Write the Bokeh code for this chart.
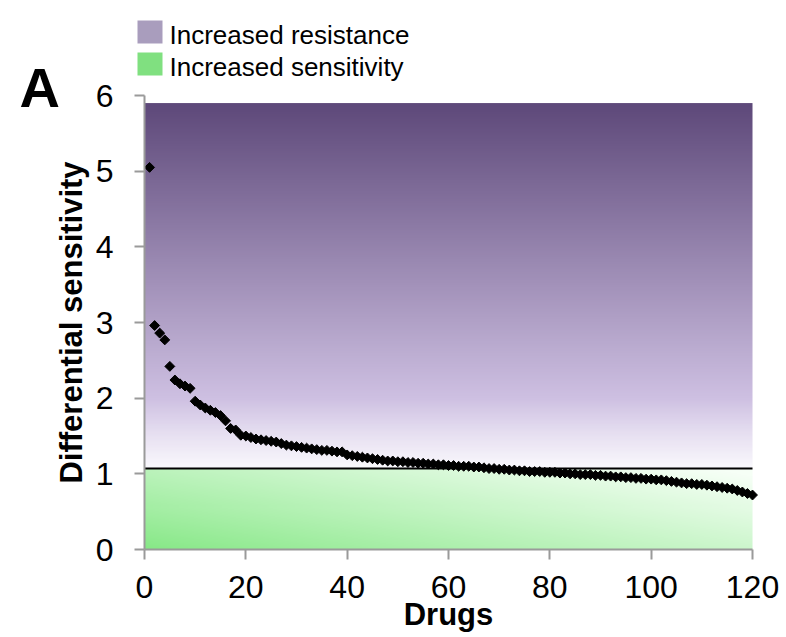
import numpy as np
from bokeh.plotting import figure
from bokeh.models import Label, BoxAnnotation, FixedTicker, LinearAxis
from bokeh.embed import file_html
from bokeh.resources import INLINE

# ---------------- data ----------------
drug_index = list(range(1, 121))
differential_sensitivity = [
    5.05, 2.96, 2.86, 2.77, 2.42, 2.24, 2.19, 2.16, 2.13, 1.96,
    1.91, 1.87, 1.84, 1.81, 1.77, 1.70, 1.60, 1.58, 1.51, 1.50,
    1.48, 1.46, 1.45, 1.44, 1.43, 1.42, 1.40, 1.38, 1.37, 1.36,
    1.35, 1.34, 1.33, 1.32, 1.31, 1.31, 1.30, 1.29, 1.29, 1.25,
    1.24, 1.23, 1.22, 1.21, 1.20, 1.19, 1.18, 1.17, 1.17, 1.16,
    1.16, 1.15, 1.15, 1.14, 1.14, 1.13, 1.13, 1.12, 1.12, 1.11,
    1.11, 1.10, 1.10, 1.10, 1.09, 1.09, 1.08, 1.07, 1.07, 1.06,
    1.06, 1.05, 1.05, 1.04, 1.04, 1.03, 1.03, 1.03, 1.02, 1.02,
    1.02, 1.01, 1.01, 1.00, 1.00, 0.99, 0.99, 0.99, 0.98, 0.98,
    0.97, 0.97, 0.96, 0.96, 0.95, 0.95, 0.94, 0.94, 0.93, 0.93,
    0.92, 0.92, 0.91, 0.90, 0.89, 0.88, 0.87, 0.87, 0.86, 0.86,
    0.85, 0.84, 0.83, 0.82, 0.81, 0.80, 0.78, 0.76, 0.74, 0.72,
]
threshold = 1.07
zone_top = 5.9
x_ticks = [0, 20, 40, 60, 80, 100, 120]
y_ticks = [0, 1, 2, 3, 4, 5, 6]
legend_labels = ["Increased resistance", "Increased sensitivity"]
legend_colors = ["#A99DBD", "#80E080"]

# ---------------- layout (pixel anchors of the axes) ----------------
W, H = 786, 637
PX_X0, PX_X1 = 144, 752     # x = 0 and x = 120
PX_Y0, PX_Y1 = 549, 95      # y = 0 and y = 6
X0, X1, Y0, Y1 = 0, 120, 0, 6
sx = (PX_X1 - PX_X0) / (X1 - X0)
sy = (PX_Y0 - PX_Y1) / (Y1 - Y0)

def dx(px):
    return X0 + (px - PX_X0) / sx

def dy(py):
    return Y0 + (PX_Y0 - py) / sy

FONT = "Liberation Sans"

p = figure(width=W, height=H, x_range=(dx(0), dx(W)), y_range=(dy(H), dy(0)),
           output_backend="svg", toolbar_location=None,
           x_axis_location=None, y_axis_location=None,
           min_border=0, min_border_left=0, min_border_right=0,
           min_border_top=0, min_border_bottom=0)
p.grid.visible = False
p.outline_line_color = None
p.background_fill_color = "white"
p.border_fill_color = "white"

# ---------------- gradient backgrounds ----------------
def rgba_image(rgb):
    h, w, _ = rgb.shape
    img = np.empty((h, w), dtype=np.uint32)
    v = img.view(dtype=np.uint8).reshape((h, w, 4))
    v[:, :, :3] = np.clip(rgb, 0, 255).astype(np.uint8)
    v[:, :, 3] = 255
    return img

nh = 300
ys = np.linspace(threshold, zone_top, nh)
stops_y = [threshold, 1.5, 2.0, zone_top]
stops_c = np.array([[250, 249, 253], [232, 225, 242], [206, 192, 226], [94, 73, 122]], float)
pr = np.stack([np.interp(ys, stops_y, stops_c[:, k]) for k in range(3)], axis=-1)
purple = np.repeat(pr[:, None, :], 4, axis=1)
p.image_rgba(image=[rgba_image(purple)], x=X0, y=threshold, dw=X1 - X0, dh=zone_top - threshold)

gh, gw = 80, 300
gx = np.linspace(0, 1, gw)[None, :]
gy = np.linspace(0, 1, gh)[:, None]
s = np.clip(0.6 * gx + 0.45 * gy, 0, 1) ** 0.9
g0 = np.array([134, 232, 134], float)
g1 = np.array([246, 255, 246], float)
green = g0[None, None, :] * (1 - s[..., None]) + g1[None, None, :] * s[..., None]
p.image_rgba(image=[rgba_image(green)], x=X0, y=Y0, dw=X1 - X0, dh=threshold - Y0)

p.line(x=[X0, X1], y=[threshold, threshold], line_color="black", line_width=2)

p.scatter(drug_index, differential_sensitivity, marker="square", angle=np.pi / 4,
          size=7, fill_color="black", line_color="black")

# ---------------- axes ----------------
xaxis = LinearAxis(fixed_location=0, bounds=(X0, X1), ticker=FixedTicker(ticks=x_ticks),
                   axis_label="Drugs")
yaxis = LinearAxis(fixed_location=0, bounds=(Y0, Y1), ticker=FixedTicker(ticks=y_ticks),
                   axis_label="Differential sensitivity")
for ax in (xaxis, yaxis):
    ax.axis_line_color = "#9A9A9A"
    ax.axis_line_width = 2
    ax.major_tick_line_color = "#9A9A9A"
    ax.major_tick_line_width = 2
    ax.major_tick_in = 0
    ax.major_tick_out = 10
    ax.minor_tick_line_color = None
    ax.major_label_text_font = FONT
    ax.major_label_text_font_size = "32px"
    ax.major_label_text_color = "black"
    ax.axis_label_text_font = FONT
    ax.axis_label_text_font_style = "bold"
    ax.axis_label_text_font_size = "31px"
    ax.axis_label_text_color = "black"
xaxis.major_label_standoff = 16
xaxis.axis_label_standoff = -4
yaxis.major_label_standoff = 21
yaxis.axis_label_standoff = 4
p.add_layout(xaxis, "below")
p.add_layout(yaxis, "left")

# ---------------- panel letter & legend ----------------
p.add_layout(Label(x=dx(19), y=dy(87), text="A", text_font=FONT, text_font_style="bold",
                   text_font_size="56px", text_color="black", text_baseline="middle"))

sq_tops = [20, 52]
text_mid = [34, 66]
for i, (lab, col) in enumerate(zip(legend_labels, legend_colors)):
    top = sq_tops[i]
    p.add_layout(BoxAnnotation(left=dx(137), right=dx(162), top=dy(top), bottom=dy(top + 23),
                               fill_color=col, fill_alpha=1, line_color=None))
    p.add_layout(Label(x=dx(169), y=dy(text_mid[i]), text=lab, text_font=FONT,
                       text_font_size="26px", text_color="black", text_baseline="middle"))

open("out.html", "w").write(file_html(p, INLINE))
